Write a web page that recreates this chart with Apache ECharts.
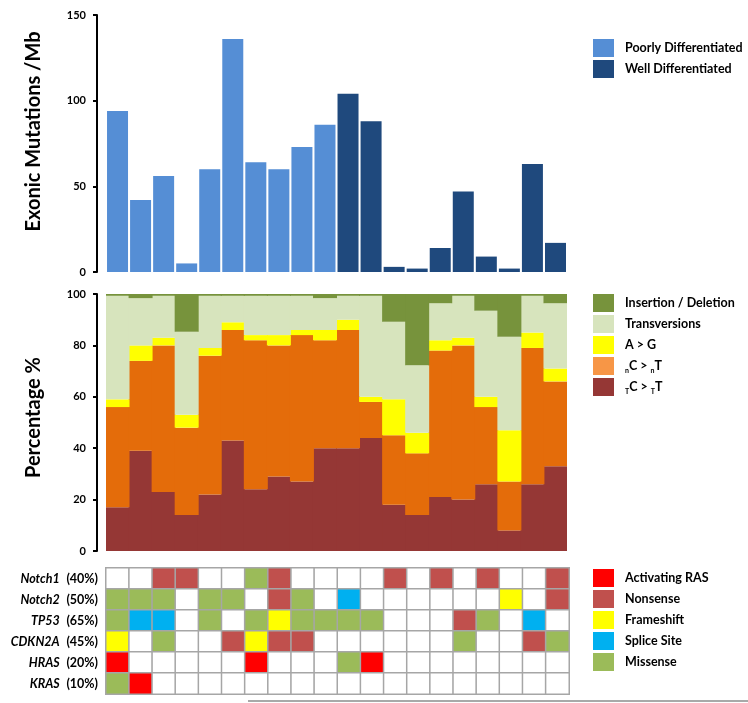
<!DOCTYPE html>
<html><head><meta charset="utf-8">
<script src="https://cdn.jsdelivr.net/npm/echarts@6.0.0/dist/echarts.min.js"></script>
<style>html,body{margin:0;padding:0;background:#fff}#c{width:748px;height:703px}</style>
</head><body><div id="c"></div>
<script>
// ---- data ----
const samples = ['1','2','3','4','5','6','7','8','9','10','11','12','13','14','15','16','17','18','19','20'];
const mutationRate = [94,42,56,5,60,136,64,60,73,86,104,88,3,2,14,47,9,2,63,17];
const differentiation = ['P','P','P','P','P','P','P','P','P','P','W','W','W','W','W','W','W','W','W','W'];
const groupNames = {P:'Poorly Differentiated', W:'Well Differentiated'};
const rateTicks = [0,50,100,150];

const tcTT = [17,39,23,14,22,43,24,29,27,40,40,44,18,14,21,20,26,8,26,33];
const ncNT = [39,35,57,34,54,43,58,51,57,42,46,14,27,24,57,60,30,19,53,33];
const aToG = [3,6,3,5,3,3,2,4,2,4,4,2,14,8,4,3,4,20,6,5];
const transversions = [40.3,18.4,16.3,32.3,20.3,10.3,15.3,15.3,13.3,12.4,9.3,39.3,30.2,26.3,14.4,16.3,33.5,36.4,14.3,25.4];
const indel = [0.7,1.6,0.7,14.7,0.7,0.7,0.7,0.7,0.7,1.6,0.7,0.7,10.8,27.7,3.6,0.7,6.5,16.6,0.7,3.6];

const genes = ['Notch1','Notch2','TP53','CDKN2A','HRAS','KRAS'];
const genePct = ['(40%)','(50%)','(65%)','(45%)','(20%)','(10%)'];
const mutationTypes = ['Activating RAS','Nonsense','Frameshift','Splice Site','Missense']; // codes 1..5
const notch1 = [0,0,2,2,0,0,5,2,0,0,0,0,2,0,2,0,2,0,0,2];
const notch2 = [5,5,5,0,5,5,0,2,5,0,4,0,0,0,0,0,0,3,0,2];
const tp53   = [5,4,4,0,5,0,5,3,5,5,5,5,0,0,0,2,5,0,4,0];
const cdkn2a = [3,0,5,0,0,2,3,2,2,0,0,0,0,0,0,5,0,0,2,5];
const hras   = [1,0,0,0,0,0,1,0,0,0,5,1,0,0,0,0,0,0,0,0];
const kras   = [5,1,0,0,0,0,0,0,0,0,0,0,0,0,0,0,0,0,0,0];
const geneRows = [notch1,notch2,tp53,cdkn2a,hras,kras];

// ---- styles ----
const FONT = 'Lato';
const groupColors = {P:'#558ED5', W:'#1F497D'};
const specColors = {tc:'#953735', nc:'#E46C0A', ncLegend:'#F79646', ag:'#FFFF00', tv:'#D7E4BD', id:'#77933C'};
const mutColors = ['#FF0000','#C0504D','#FFFF00','#00B0F0','#9BBB59'];

const heatData = [];
geneRows.forEach((row, gi) => row.forEach((code, si) => heatData.push([si, gi, code])));

function grpSeries(key){
  return {
    name: groupNames[key], type:'bar', xAxisIndex:0, yAxisIndex:0, stack:'rate', barWidth:21,
    itemStyle:{color:groupColors[key]},
    data: mutationRate.map((v,i)=> differentiation[i]===key ? v : '-')
  };
}
function specSeries(name, arr, color){
  return {name, type:'bar', xAxisIndex:1, yAxisIndex:1, stack:'spec', barWidth:24,
    itemStyle:{color, borderWidth:0}, data:arr};
}

const yAxisCommon = {
  offset:9,
  axisLine:{show:true, lineStyle:{color:'#000', width:2}},
  axisTick:{show:true, length:4, lineStyle:{color:'#000', width:2}},
  axisLabel:{color:'#000', fontWeight:'bold', fontSize:11, fontFamily:FONT, margin:11},
  splitLine:{show:false},
  nameLocation:'middle', nameGap:53,
};
const legendCommon = {
  orient:'vertical', left:593, padding:0, itemWidth:21, itemHeight:18, itemGap:3, icon:'rect', selectedMode:false,
  textStyle:{color:'#000', fontWeight:'bold', fontSize:12.5, fontFamily:FONT, padding:[0,0,0,6],
    rich:{
      m:{color:'#000', fontWeight:'bold', fontSize:12.5, fontFamily:FONT, lineHeight:16},
      s:{color:'#000', fontWeight:'bold', fontSize:7, fontFamily:FONT, lineHeight:7, verticalAlign:'bottom'}
    }}
};

const option = {
  animation:false,
  backgroundColor:'#fff',
  grid:[
    {left:106, top:15, width:461, height:257, outerBoundsMode:'none'},
    {left:106, top:294, width:461, height:257, outerBoundsMode:'none'},
    {left:106, top:568, width:463, height:126, outerBoundsMode:'none'}
  ],
  xAxis:[
    {type:'category', gridIndex:0, data:samples, show:false},
    {type:'category', gridIndex:1, data:samples, show:false},
    {type:'category', gridIndex:2, data:samples, show:false}
  ],
  yAxis:[
    Object.assign({}, yAxisCommon, {type:'value', gridIndex:0, min:rateTicks[0], max:rateTicks[3], interval:50,
      name:'Exonic Mutations /Mb',
      nameTextStyle:{color:'#000', fontWeight:'bold', fontSize:20, fontFamily:FONT, padding:[0,0,0,24]}}),
    Object.assign({}, yAxisCommon, {type:'value', gridIndex:1, min:0, max:100, interval:20,
      name:'Percentage %',
      nameTextStyle:{color:'#000', fontWeight:'bold', fontSize:20, fontFamily:FONT, padding:[0,0,0,10]}}),
    {type:'category', gridIndex:2, data:genes, inverse:true,
      axisLine:{show:false}, axisTick:{show:false}, splitLine:{show:false},
      axisLabel:{margin:8, formatter:(v)=>'{g|'+v+'}  {p|'+genePct[genes.indexOf(v)]+'}',
        rich:{
          g:{color:'#000', fontWeight:'bold', fontStyle:'italic', fontSize:12.5, fontFamily:FONT},
          p:{color:'#000', fontWeight:'bold', fontSize:12.5, fontFamily:FONT}
        }}}
  ],
  legend:[
    Object.assign({}, legendCommon, {top:39, data:[groupNames.P, groupNames.W]}),
    Object.assign({}, legendCommon, {top:294,
      data:[{name:'Insertion / Deletion'},{name:'Transversions'},{name:'A > G'},
            {name:'nC > nT', itemStyle:{color:specColors.ncLegend}},{name:'TC > TT'}],
      formatter:function(n){
        if(n==='nC > nT') return '{s|n}{m|C > }{s|n}{m|T}';
        if(n==='TC > TT') return '{s|T}{m|C > }{s|T}{m|T}';
        return '{m|'+n+'}';
      }}),
    Object.assign({}, legendCommon, {top:569, data:mutationTypes})
  ],
  visualMap:{type:'piecewise', show:false, seriesIndex:7, dimension:2,
    pieces:[{value:0,color:'#FFFFFF'}].concat(mutColors.map((c,i)=>({value:i+1,color:c})))},
  series:[
    grpSeries('P'), grpSeries('W'),
    specSeries('TC > TT', tcTT, specColors.tc),
    specSeries('nC > nT', ncNT, specColors.nc),
    specSeries('A > G', aToG, specColors.ag),
    specSeries('Transversions', transversions, specColors.tv),
    specSeries('Insertion / Deletion', indel, specColors.id),
    {type:'heatmap', xAxisIndex:2, yAxisIndex:2, data:heatData,
      itemStyle:{borderColor:'#A6A6A6', borderWidth:1.5}, emphasis:{disabled:true}},
  ].concat(mutationTypes.map((t,i)=>({name:t, type:'scatter', xAxisIndex:2, yAxisIndex:2, data:[],
      itemStyle:{color:mutColors[i], opacity:1}}))),
  graphic:[{type:'line', shape:{x1:248, y1:701, x2:748, y2:701}, style:{stroke:'#8C8C8C', lineWidth:1.5}}]
};
const chart = echarts.init(document.getElementById('c'), null, {renderer:'canvas'});
chart.setOption(option);
</script></body></html>
